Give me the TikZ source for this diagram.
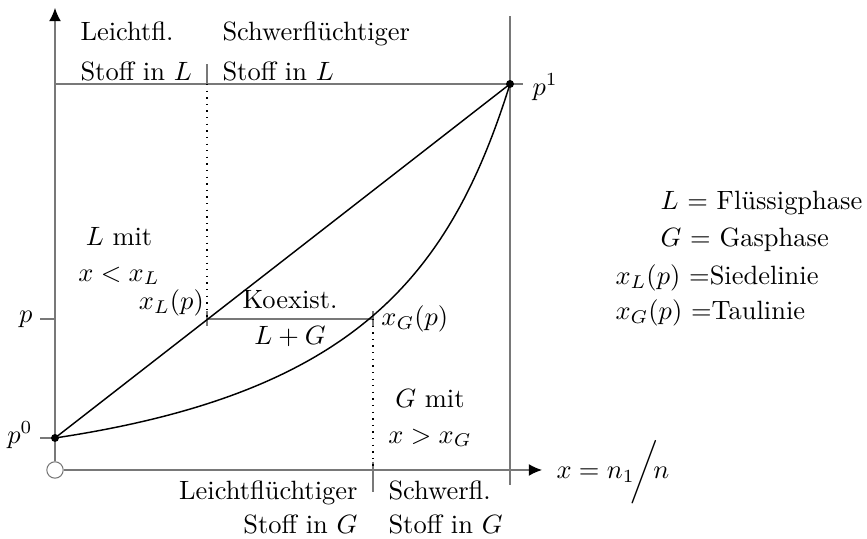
\documentclass[tikz,border=0pt]{standalone}
\usepackage{amsmath}
\usepackage{tikz}
\usetikzlibrary{arrows.meta,positioning,calc}
\definecolor{axgray}{RGB}{120,120,120}
\tikzset{
  ax/.style={draw=axgray, line width=0.45pt},
  axarr/.style={ax, -{Latex[length=5pt, width=4.5pt, color=black]}},
  kurve/.style={draw=black, line width=0.55pt},
  hilf/.style={draw=black, dotted, line width=0.5pt},
  pkt/.style={circle, fill=black, inner sep=0pt, minimum size=3pt},
  lbl/.style={inner sep=0pt, font=\normalsize},
}

\begin{document}
\begin{tikzpicture}[x=0.378pt, y=0.378pt]
  \useasboundingbox (-55,-69) rectangle (812,470);
  % Koordinaten
  \coordinate (p0) at (0,32);
  \coordinate (p1) at (455,386);
  \coordinate (pp) at (0,151);
  \coordinate (xl) at (152,151);
  \coordinate (xg) at (318,151);
  \coordinate (tl) at (152,386);
  \coordinate (tg) at (318,0);
  \coordinate (ytop) at (0,386);
  \coordinate (lend) at (468,386);
  \coordinate (vbot) at (455,-15);
  \coordinate (vtop) at (455,454);
  \coordinate (xend) at (487,0);
  \coordinate (yend) at (0,462);

  % Achsen
  \node[circle, draw=axgray, fill=white, minimum size=6.2pt, inner sep=0pt] (o) at (0,0) {};
  \draw[axarr] (o) -- (xend);
  \draw[axarr] (o) -- (yend);
  \draw[ax] (ytop) -- (lend);
  \draw[ax] (vbot) -- (vtop);
  \draw[ax] (p0) -- ++(-15,0);
  \draw[ax] (pp) -- ++(-15,0);
  \draw[ax] (tl) -- ++(0,20);
  \draw[ax] ($(tg)+(0,8)$) -- ++(0,-30);
  \draw[ax] (xl) -- (xg);
  \draw[ax] ($(xl)+(0,-7)$) -- ++(0,15);
  \draw[ax] ($(xg)+(0,-8)$) -- ++(0,16);
  \draw[hilf] (tl) -- (xl);
  \draw[hilf] (xg) -- (tg);

  % Siede- und Taulinie
  \draw[kurve] (p0) -- (p1);
  \draw[kurve] (p0) .. controls (300,77) and (395,194) .. (p1);
  \node[pkt] (d0) at (p0) {};
  \node[pkt] (d1) at (p1) {};

  % Beschriftung
  \node[lbl, anchor=east] (lp0) at (-22,35) {$p^0$};
  \node[lbl, anchor=east] (lp) at (-22,151) {$p$};
  \node[lbl, anchor=west] (lp1) at (477,383) {$p^1$};
  \node[lbl, anchor=west] (lx) at (501,-2) {$x = n_1\!\bigg/\!n$};
  \node[lbl, anchor=south east, inner sep=1pt] (lxl) at (xl) {$x_L(p)$};
  \node[lbl, anchor=west, inner sep=3pt] (lxg) at (xg) {$x_G(p)$};
  \node[lbl, align=center] (koex) at ($(xl)!0.5!(xg)$) {Koexist.\\[1.6pt]$L+G$};
  \node[lbl, align=center] (lmit) at (64,214) {$L$ mit\\[1.6pt]$x<x_L$};
  \node[lbl, align=center] (gmit) at (375,52) {$G$ mit\\[1.6pt]$x>x_G$};
  \node[lbl, anchor=north west, align=left] (tleft) at (25,449) {Leichtfl.\\[3.1pt]Stoff in $L$};
  \node[lbl, anchor=north west, align=left] (tright) at (167,449) {Schwerfl\"uchtiger\\[3.1pt]Stoff in $L$};
  \node[lbl, anchor=north east, align=right] (bleft) at (303,-10) {Leichtfl\"uchtiger\\[0.9pt]Stoff in $G$};
  \node[lbl, anchor=north west, align=left] (bright) at (333,-10) {Schwerfl.\\[0.9pt]Stoff in $G$};

  % Legende
  \node[lbl, anchor=west] (leg1) at (605,267) {$L$ = Fl\"ussigphase};
  \node[lbl, anchor=west] (leg2) at (605,230) {$G$ = Gasphase};
  \node[lbl, anchor=west] (leg3) at (560,192) {$x_L(p)$ =Siedelinie};
  \node[lbl, anchor=west] (leg4) at (560,157) {$x_G(p)$ =Taulinie};
\end{tikzpicture}
\end{document}
